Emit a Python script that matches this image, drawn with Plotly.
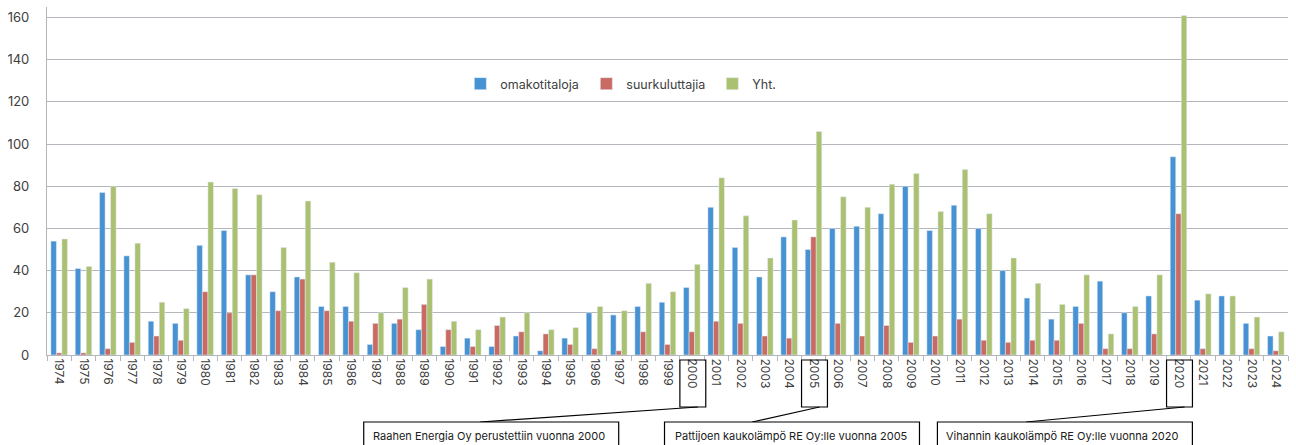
import plotly.graph_objects as go

years = [str(y) for y in range(1974, 2025)]
omakotitaloja = [54, 41, 77, 47, 16, 15, 52, 59, 38, 30, 37, 23, 23, 5, 15, 12, 4, 8, 4, 9,
                 2, 8, 20, 19, 23, 25, 32, 70, 51, 37, 56, 50, 60, 61, 67, 80, 59, 71, 60, 40,
                 27, 17, 23, 35, 20, 28, 94, 26, 28, 15, 9]
suurkuluttajia = [1, 1, 3, 6, 9, 7, 30, 20, 38, 21, 36, 21, 16, 15, 17, 24, 12, 4, 14, 11,
                  10, 5, 3, 2, 11, 5, 11, 16, 15, 9, 8, 56, 15, 9, 14, 6, 9, 17, 7, 6,
                  7, 7, 15, 3, 3, 10, 67, 3, 0, 3, 2]
yht = [55, 42, 80, 53, 25, 22, 82, 79, 76, 51, 73, 44, 39, 20, 32, 36, 16, 12, 18, 20,
       12, 13, 23, 21, 34, 30, 43, 84, 66, 46, 64, 106, 75, 70, 81, 86, 68, 88, 67, 46,
       34, 24, 38, 10, 23, 38, 161, 29, 28, 18, 11]

notes = [("2000", "Raahen Energia Oy perustettiin vuonna 2000"),
         ("2005", "Pattijoen kaukolämpö RE Oy:lle vuonna 2005"),
         ("2020", "Vihannin kaukolämpö RE Oy:lle vuonna 2020")]

W, H = 1296, 445
L, R, T, B = 42, 8, 7, 90
pw, ph = W - L - R, H - T - B
cw = pw / len(years)

def xp(px):
    return (px - L) / pw

def yp(py):
    return (H - B - py) / ph

FONT = "Inter"
TXT = "#404040"
GRID = "#B3B7BD"

fig = go.Figure()
fig.add_bar(x=years, y=omakotitaloja, name="omakotitaloja", marker_color="#4692D2")
fig.add_bar(x=years, y=suurkuluttajia, name="suurkuluttajia", marker_color="#C96A63")
fig.add_bar(x=years, y=yht, name="Yht.", marker_color="#ABC171")

shapes = []
annotations = []
# text boxes: (left px, right px, text center px, connector end px)
boxes = [(360, 616, 486, 477), (662, 918, 789, 750), (936, 1192, 1061, 1025)]
for (yr, txt), (bx0, bx1, tcx, lx) in zip(notes, boxes):
    idx = years.index(yr)
    cx = L + (idx + 0.5) * cw
    shapes.append(dict(type="rect", xref="paper", yref="paper",
                       x0=xp(cx - 12), x1=xp(cx + 14), y0=yp(360), y1=yp(407),
                       line=dict(color="black", width=1.2), fillcolor="rgba(0,0,0,0)"))
    shapes.append(dict(type="line", xref="paper", yref="paper",
                       x0=xp(cx + 6), y0=yp(407), x1=xp(lx), y1=yp(422),
                       line=dict(color="black", width=1.2)))
    shapes.append(dict(type="rect", xref="paper", yref="paper",
                       x0=xp(bx0), x1=xp(bx1), y0=yp(422), y1=yp(460),
                       line=dict(color="black", width=1.2), fillcolor="white"))
    annotations.append(dict(text=txt, xref="paper", yref="paper", x=xp(tcx), y=yp(436),
                            xanchor="center", yanchor="middle", showarrow=False,
                            font=dict(family=FONT, size=11, color="#202020")))

fig.update_layout(
    width=W, height=H,
    margin=dict(l=L, r=R, t=T, b=B, pad=0),
    paper_bgcolor="white", plot_bgcolor="white",
    barmode="group", bargap=0.32, bargroupgap=0,
    font=dict(family=FONT, color=TXT),
    showlegend=True,
    legend=dict(orientation="h", x=xp(457), y=yp(84), xanchor="left", yanchor="middle",
                font=dict(family=FONT, size=12.5, color=TXT), bgcolor="rgba(0,0,0,0)",
                itemwidth=30, entrywidth=81, entrywidthmode="pixels"),
    xaxis=dict(type="category", tickangle=90, tickfont=dict(family=FONT, size=12, color=TXT),
               showline=True, linecolor=GRID, linewidth=1.2, ticks="outside", tickson="boundaries",
               ticklen=5, tickcolor=GRID, showgrid=False, fixedrange=True),
    yaxis=dict(range=[0, 165], tick0=0, dtick=20, showgrid=True, gridcolor=GRID, gridwidth=1.2,
               showline=True, linecolor=GRID, linewidth=1.2, zeroline=False,
               tickfont=dict(family=FONT, size=13, color=TXT), ticklabelstandoff=14),
    shapes=shapes, annotations=annotations,
)

fig.write_html("out.html", config={"displayModeBar": False},
               post_script="document.body.style.margin='0';")
